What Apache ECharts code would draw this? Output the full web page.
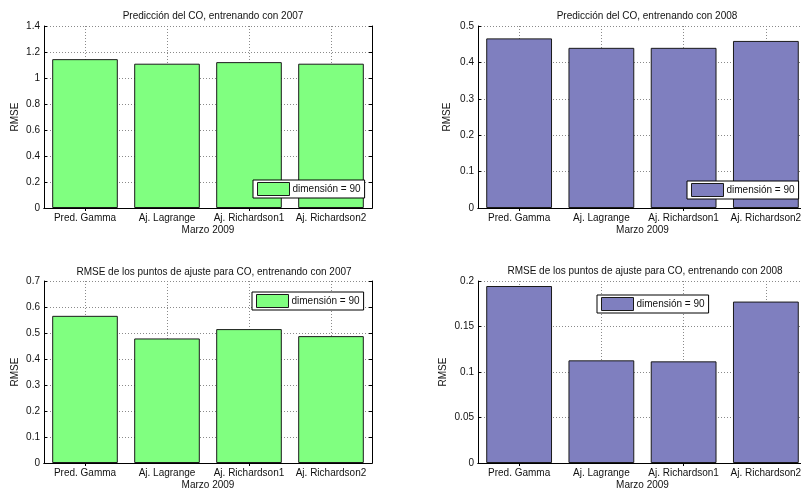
<!DOCTYPE html>
<html>
<head>
<meta charset="utf-8">
<script src="https://cdn.jsdelivr.net/npm/echarts@6/dist/echarts.min.js"></script>
<style>html,body{margin:0;padding:0;background:#fff;}#c{width:801px;height:494px;}</style>
</head>
<body>
<div id="c"></div>
<script>
const categories = ['Pred. Gamma', 'Aj. Lagrange', 'Aj. Richardson1', 'Aj. Richardson2'];
const pred2007 = [1.145, 1.110, 1.122, 1.110];
const pred2008 = [0.466, 0.440, 0.440, 0.459];
const ajuste2007 = [0.566, 0.479, 0.515, 0.488];
const ajuste2008 = [0.1945, 0.1128, 0.1117, 0.1774];
const titles = [
  'Predicción del CO, entrenando con 2007',
  'Predicción del CO, entrenando con 2008',
  'RMSE de los puntos de ajuste para CO, entrenando con 2007',
  'RMSE de los puntos de ajuste para CO, entrenando con 2008'
];
const yMax = [1.4, 0.5, 0.7, 0.2];
const yStep = [0.2, 0.1, 0.1, 0.05];
const seriesName = 'dimensión = 90';
const xName = 'Marzo 2009';
const yName = 'RMSE';

const green = '#80ff80';
const purple = '#7f7fbf';
const FONT = '"Liberation Sans", Arial, sans-serif';
const panels = [
  { data: pred2007, color: green, grid: {left: 44, top: 26, width: 328, height: 182}, legend: {left: 253, top: 180}, title: {left: 208, top: 6}, nameGap: 24 },
  { data: pred2008, color: purple, grid: {left: 478, top: 26, width: 329, height: 182}, legend: {left: 687, top: 181}, title: {left: 642, top: 6}, nameGap: 26 },
  { data: ajuste2007, color: green, grid: {left: 44, top: 281, width: 328, height: 182}, legend: {left: 252, top: 292}, title: {left: 209, top: 262}, nameGap: 24 },
  { data: ajuste2008, color: purple, grid: {left: 478, top: 281, width: 329, height: 182}, legend: {left: 597, top: 295}, title: {left: 640, top: 261}, nameGap: 30 }
];

const dotted = { color: '#8a8a8a', width: 1, type: [1, 2] };
const textBase = { fontFamily: FONT, fontSize: 10, color: '#111' };

const option = { animation: false, backgroundColor: '#fff', grid: [], xAxis: [], yAxis: [], series: [], legend: [], title: [] };

panels.forEach((p, i) => {
  option.grid.push(Object.assign({ containLabel: false, outerBoundsMode: 'none' }, p.grid));
  option.title.push({
    text: titles[i], left: p.title.left, top: p.title.top, textAlign: 'center',
    textStyle: Object.assign({}, textBase, { fontWeight: 'normal' })
  });
  // bottom category axis
  option.xAxis.push({
    type: 'category', gridIndex: i, data: categories, position: 'bottom',
    name: xName, nameLocation: 'middle', nameGap: 17,
    nameTextStyle: textBase,
    axisLine: { lineStyle: { color: '#000', width: 1 } },
    axisTick: { show: true, inside: true, length: 3, alignWithLabel: true, lineStyle: { color: '#000' } },
    axisLabel: Object.assign({ margin: 5, interval: 0 }, textBase),
    splitLine: { show: true, alignWithLabel: true, lineStyle: dotted }
  });
  // top category axis (box + ticks)
  option.xAxis.push({
    type: 'category', gridIndex: i, data: categories, position: 'top',
    axisLine: { lineStyle: { color: '#000', width: 1 } },
    axisTick: { show: true, inside: true, length: 3, alignWithLabel: true, lineStyle: { color: '#000' } },
    axisLabel: { show: false }, splitLine: { show: false }
  });
  option.yAxis.push({
    type: 'value', gridIndex: i, min: 0, max: yMax[i], interval: yStep[i], position: 'left',
    name: yName, nameLocation: 'middle', nameGap: p.nameGap, nameRotate: 90,
    nameTextStyle: textBase,
    axisLine: { show: true, lineStyle: { color: '#000', width: 1 } },
    axisTick: { show: true, inside: true, length: 3, lineStyle: { color: '#000' } },
    axisLabel: Object.assign({ margin: 4 }, textBase),
    splitLine: { show: true, lineStyle: dotted }
  });
  option.yAxis.push({
    type: 'value', gridIndex: i, min: 0, max: yMax[i], interval: yStep[i], position: 'right',
    axisLine: { show: true, lineStyle: { color: '#000', width: 1 } },
    axisTick: { show: true, inside: true, length: 3, lineStyle: { color: '#000' } },
    axisLabel: { show: false }, splitLine: { show: false }
  });
  option.series.push({
    type: 'bar', name: seriesName, xAxisIndex: 2 * i, yAxisIndex: 2 * i,
    data: p.data, barCategoryGap: '20%', z: 3,
    itemStyle: { color: p.color, borderColor: '#1a1a1a', borderWidth: 1 }
  });
  option.legend.push({
    left: p.legend.left, top: p.legend.top, orient: 'horizontal',
    data: [{ name: seriesName, itemStyle: { color: p.color, borderColor: '#1a1a1a', borderWidth: 1 } }],
    backgroundColor: '#fff', borderColor: '#000', borderWidth: 1, borderRadius: 0,
    padding: [2, 4, 2, 4], itemWidth: 32, itemHeight: 13, itemGap: 5,
    selectedMode: false, icon: 'rect',
    textStyle: Object.assign({}, textBase, { padding: [0, 0, 0, -2] })
  });
});

const chart = echarts.init(document.getElementById('c'), null, { renderer: 'canvas' });
chart.setOption(option);
</script>
</body>
</html>
